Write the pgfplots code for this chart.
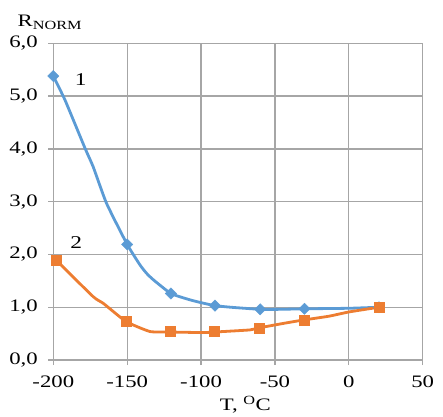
\documentclass[border=0pt]{standalone}
\usepackage{pgfplots}
\pgfplotsset{compat=1.18}
\usepackage{fontspec}
\setmainfont{Liberation Serif}[FakeStretch=1.3]

\definecolor{serA}{HTML}{5B9BD5}
\definecolor{serB}{HTML}{ED7D31}
\definecolor{gridc}{HTML}{A6A6A6}

\begin{document}
\begin{tikzpicture}
\begin{axis}[
    name=ax,
    scale only axis,
    width=369.4pt, height=316.7pt,
    xmin=-200, xmax=50, ymin=0, ymax=6,
    xtick={-200,-150,-100,-50,0,50},
    xticklabels={-200,-150,-100,-50,0,50},
    ytick={0,1,2,3,4,5,6},
    yticklabels={{0,0},{1,0},{2,0},{3,0},{4,0},{5,0},{6,0}},
    grid=major,
    grid style={gridc, line width=1.3pt},
    axis line style={gridc, line width=1.3pt},
    axis x line*=bottom, axis y line*=left,
    tick style={gridc, line width=1.3pt},
    tick align=outside,
    major tick length=5pt,
    tick label style={font=\fontsize{17.5}{17.5}\selectfont},
    xticklabel style={yshift=-7.5pt},
    yticklabel style={xshift=-7pt},
    clip=false,
]
% curve 1 (line)
\addplot[serA, line width=2.8pt, smooth, tension=0.3] coordinates {
  (-200,5.38) (-192,4.92) (-178.5,4.01) (-173,3.66) (-164,2.97)
  (-150,2.19) (-141.3,1.80) (-136.8,1.64) (-132.3,1.52)
  (-120.4,1.26) (-107.5,1.14) (-99,1.08) (-90.6,1.03) (-80,1.0)
  (-60,0.96) (-47,0.96) (-30,0.97) (0,0.98) (20.4,1.0)
};
% curve 1 (markers)
\addplot[only marks, mark=square*, mark size=4pt, mark options={rotate=45}, serA] coordinates {
  (-200,5.38) (-150,2.19) (-120.4,1.26) (-90.6,1.03) (-60,0.96) (-30,0.97) (20.4,1.0)
};
% curve 2 (line)
\addplot[serB, line width=2.8pt, smooth, tension=0.3] coordinates {
  (-198,1.89) (-173,1.2) (-166,1.07) (-150.8,0.73) (-134.6,0.54)
  (-120.6,0.53) (-99,0.52) (-91,0.53) (-67,0.57) (-60.6,0.61)
  (-43,0.70) (-30.2,0.76) (-13.4,0.83) (0,0.91) (20.4,1.0)
};
% curve 2 (markers)
\addplot[only marks, mark=square*, mark size=5pt, serB] coordinates {
  (-198,1.89) (-150.8,0.73) (-120.6,0.54) (-91,0.54) (-60.6,0.61) (-30.2,0.76) (20.4,1.0)
};
\node[font=\fontsize{18}{18}\selectfont] at (axis cs:-181.5,5.32) {1};
\node[font=\fontsize{18}{18}\selectfont] at (axis cs:-184.5,2.22) {2};
\node[font=\fontsize{17.5}{17.5}\selectfont, anchor=west, inner sep=0pt] at (rel axis cs:-0.097,1.066) {R\textsubscript{\fontsize{12.5}{12.5}\selectfont NORM}};
\node[font=\fontsize{17.5}{17.5}\selectfont, inner sep=0pt] at (rel axis cs:0.52,-0.14) {T, \textsuperscript{\fontsize{12.5}{12.5}\selectfont O}C};
\end{axis}
\pgfresetboundingbox
\path ([shift={(-53.3pt,-56pt)}]ax.south west) rectangle ([shift={(20.3pt,43.3pt)}]ax.north east);
\end{tikzpicture}
\end{document}
